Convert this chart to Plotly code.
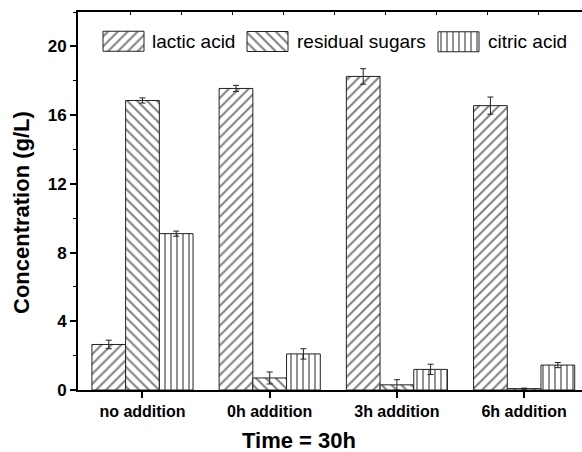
import plotly.graph_objects as go

categories = ["no addition", "0h addition", "3h addition", "6h addition"]
lactic = [2.65, 17.55, 18.25, 16.55]
lactic_err = [0.25, 0.18, 0.45, 0.5]
sugars = [16.85, 0.7, 0.3, 0.08]
sugars_err = [0.15, 0.35, 0.3, 0.03]
citric = [9.1, 2.1, 1.2, 1.45]
citric_err = [0.15, 0.3, 0.3, 0.15]
series_names = ["lactic acid", "residual sugars", "citric acid"]
y_ticks = [0, 4, 8, 12, 16, 20]

FONT = "Liberation Sans, Arial, sans-serif"
shapes = ["/", "\\", "|"]
sizes = [7, 7, 6]

fig = go.Figure()
for name, vals, errs, shp, sz in zip(series_names, [lactic, sugars, citric],
                                     [lactic_err, sugars_err, citric_err], shapes, sizes):
    fig.add_trace(go.Bar(
        x=categories, y=vals, name=name, showlegend=False,
        marker=dict(color="white", line=dict(color="#222", width=1),
                    pattern=dict(shape=shp, fgcolor="#000", bgcolor="white",
                                 size=sz, solidity=0.28)),
        error_y=dict(type="data", array=errs, color="#222", thickness=1, width=3),
    ))

# legend swatches (pixel-like overlay axes)
sw_x = [103, 247, 438]
txt_x = [150, 295, 486]
for name, shp, sz, sx, tx in zip(series_names, shapes, sizes, sw_x, txt_x):
    fig.add_trace(go.Bar(
        x=[41], base=[sx], y=[41.5], width=[20], orientation="h",
        xaxis="x2", yaxis="y2", showlegend=False, hoverinfo="skip",
        marker=dict(color="white", line=dict(color="#222", width=1),
                    pattern=dict(shape=shp, fgcolor="#000", bgcolor="white",
                                 size=sz, solidity=0.28)),
    ))
    fig.add_annotation(x=tx, y=41.5, xref="x2", yref="y2", text=name,
                       showarrow=False, xanchor="left", yanchor="middle",
                       font=dict(family=FONT, size=19, color="black"))

fig.add_annotation(x=(299 - 78) / 504, y=(390 - 440) / 378, xref="paper", yref="paper",
                   text="Time = 30h", showarrow=False, xanchor="center", yanchor="middle",
                   borderpad=0,
                   font=dict(family=FONT, size=22, color="black", weight="bold"))
fig.add_annotation(x=(21 - 78) / 504, y=(390 - 213) / 378, xref="paper", yref="paper",
                   text="Concentration (g/L)", textangle=-90, showarrow=False,
                   xanchor="center", yanchor="middle",
                   font=dict(family=FONT, size=22, color="black", weight="bold"))

fig.update_layout(
    width=582, height=452,
    margin=dict(l=78, r=0, t=12, b=62),
    paper_bgcolor="white", plot_bgcolor="white",
    barmode="group", bargap=0.205, bargroupgap=0,
    font=dict(family=FONT, color="black"),
    xaxis=dict(type="category", range=[-0.507, 3.455], showline=True, linewidth=2,
               linecolor="black", ticks="outside", ticklen=6, tickwidth=2,
               tickcolor="black", showgrid=False, zeroline=False,
               tickfont=dict(family=FONT, size=16, color="black", weight="bold")),
    yaxis=dict(range=[0, 22], tickvals=y_ticks, showline=True, linewidth=2,
               linecolor="black", ticks="outside", ticklen=6, tickwidth=1.5,
               tickcolor="black", showgrid=False, zeroline=False,
               minor=dict(dtick=2, ticks="outside", ticklen=3, tickcolor="black", tickwidth=1),
               tickfont=dict(family=FONT, size=17, color="black", weight="bold")),
    xaxis2=dict(overlaying="x", side="top", anchor="y2", range=[78, 582],
                showline=True, linewidth=1.5, linecolor="black", ticks="inside",
                ticklen=3, tickcolor="black",
                tickvals=[130, 181, 232, 283, 334, 385, 436, 487, 538],
                showticklabels=False, showgrid=False, zeroline=False, fixedrange=True),
    yaxis2=dict(overlaying="y", anchor="x2", range=[390, 12], visible=False,
                showgrid=False, zeroline=False, fixedrange=True),
)

fig.write_html("out.html", config={"displayModeBar": False},
               post_script="document.body.style.margin='0';document.body.style.overflow='hidden';")
